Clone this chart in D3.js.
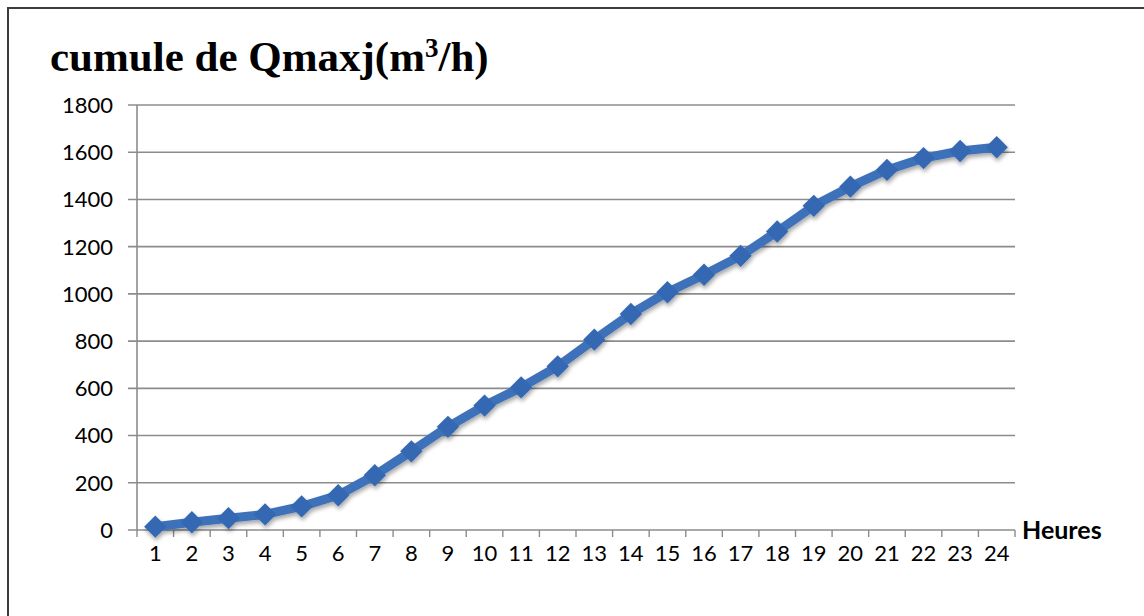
<!DOCTYPE html>
<html>
<head>
<meta charset="utf-8">
<script src="https://cdn.jsdelivr.net/npm/d3@7"></script>
<style>
  html, body { margin: 0; padding: 0; background: #ffffff; }
  svg { display: block; }
</style>
</head>
<body>
<svg id="chart" width="1144" height="616"></svg>
<script>
// Hours of the day (x categories)
const heures = d3.range(1, 25);
// Cumulative maximum daily flow, m3/h
const cumulQmax = [14, 33, 50, 66, 100, 147, 232, 333, 437, 527, 604, 693, 806, 915, 1007, 1081, 1161, 1264, 1373, 1454, 1525, 1575, 1605, 1621];
// Y tick values
const yTicks = [0, 200, 400, 600, 800, 1000, 1200, 1400, 1600, 1800];

const svg = d3.select("#chart");

// Frame (left and top edges)
svg.append("path")
  .attr("d", "M8,616 V8 H1144")
  .attr("fill", "none")
  .attr("stroke", "#3c3c3c")
  .attr("stroke-width", 2);

// Title
const title = svg.append("text")
  .attr("x", 50)
  .attr("y", 71)
  .attr("font-family", "'Liberation Serif', 'Times New Roman', serif")
  .attr("font-weight", "bold")
  .attr("font-size", 43)
  .attr("fill", "#000");
title.append("tspan").text("cumule de Qmaxj(m");
title.append("tspan").text("3").attr("font-size", 27).attr("dy", -14);
title.append("tspan").text("/h)").attr("dy", 14);

const plot = { left: 137, right: 1015, top: 105, bottom: 530 };

const x = d3.scaleBand().domain(heures).range([plot.left, plot.right]).padding(0);
const y = d3.scaleLinear().domain([0, 1800]).range([plot.bottom, plot.top]);

// Horizontal gridlines (with the left tick stubs)
svg.append("g")
  .selectAll("line")
  .data(yTicks)
  .join("line")
  .attr("x1", plot.left - 9)
  .attr("x2", plot.right)
  .attr("y1", d => y(d))
  .attr("y2", d => y(d))
  .attr("stroke", "#8c8c8c")
  .attr("stroke-width", 1.6);

// Y axis line
svg.append("line")
  .attr("x1", plot.left).attr("x2", plot.left)
  .attr("y1", plot.top).attr("y2", plot.bottom)
  .attr("stroke", "#8c8c8c")
  .attr("stroke-width", 1.6);

// X axis tick marks at category boundaries
const boundaries = heures.map(h => x(h)).concat([plot.right]);
svg.append("g")
  .selectAll("line")
  .data(boundaries)
  .join("line")
  .attr("x1", d => d).attr("x2", d => d)
  .attr("y1", plot.bottom).attr("y2", plot.bottom + 7)
  .attr("stroke", "#8c8c8c")
  .attr("stroke-width", 1.4);

// Y tick labels
svg.append("g")
  .selectAll("text")
  .data(yTicks)
  .join("text")
  .attr("x", 113)
  .attr("y", d => y(d))
  .attr("dy", "0.36em")
  .attr("text-anchor", "end")
  .attr("font-family", "Lato, 'Open Sans', sans-serif")
  .attr("font-size", 22)
  .attr("fill", "#000")
  .text(d => d);

// X tick labels
svg.append("g")
  .selectAll("text")
  .data(heures)
  .join("text")
  .attr("x", d => x(d) + x.bandwidth() / 2)
  .attr("y", 561)
  .attr("text-anchor", "middle")
  .attr("font-family", "Lato, 'Open Sans', sans-serif")
  .attr("font-size", 22)
  .attr("fill", "#000")
  .text(d => d);

// X axis title
svg.append("text")
  .attr("x", 1022)
  .attr("y", 539)
  .attr("font-family", "Lato, 'Open Sans', sans-serif")
  .attr("font-weight", "bold")
  .attr("font-size", 25)
  .attr("fill", "#000")
  .text("Heures");

// Soft shadow under the series
const defs = svg.append("defs");
const f = defs.append("filter").attr("id", "shadow")
  .attr("x", "-10%").attr("y", "-10%").attr("width", "120%").attr("height", "130%");
f.append("feDropShadow")
  .attr("dx", 1).attr("dy", 3)
  .attr("stdDeviation", 2)
  .attr("flood-color", "#000")
  .attr("flood-opacity", 0.35);

const pts = heures.map((h, i) => [x(h) + x.bandwidth() / 2, y(cumulQmax[i])]);

const series = svg.append("g").attr("filter", "url(#shadow)");

series.append("path")
  .attr("d", d3.line()(pts))
  .attr("fill", "none")
  .attr("stroke", "#3e71b9")
  .attr("stroke-width", 9)
  .attr("stroke-linejoin", "round");

const diamond = d3.symbol().type(d3.symbolSquare).size(250);
series.selectAll("path.marker")
  .data(pts)
  .join("path")
  .attr("class", "marker")
  .attr("d", diamond)
  .attr("transform", d => `translate(${d[0]},${d[1]}) rotate(45)`)
  .attr("fill", "#3468b2");
</script>
</body>
</html>
